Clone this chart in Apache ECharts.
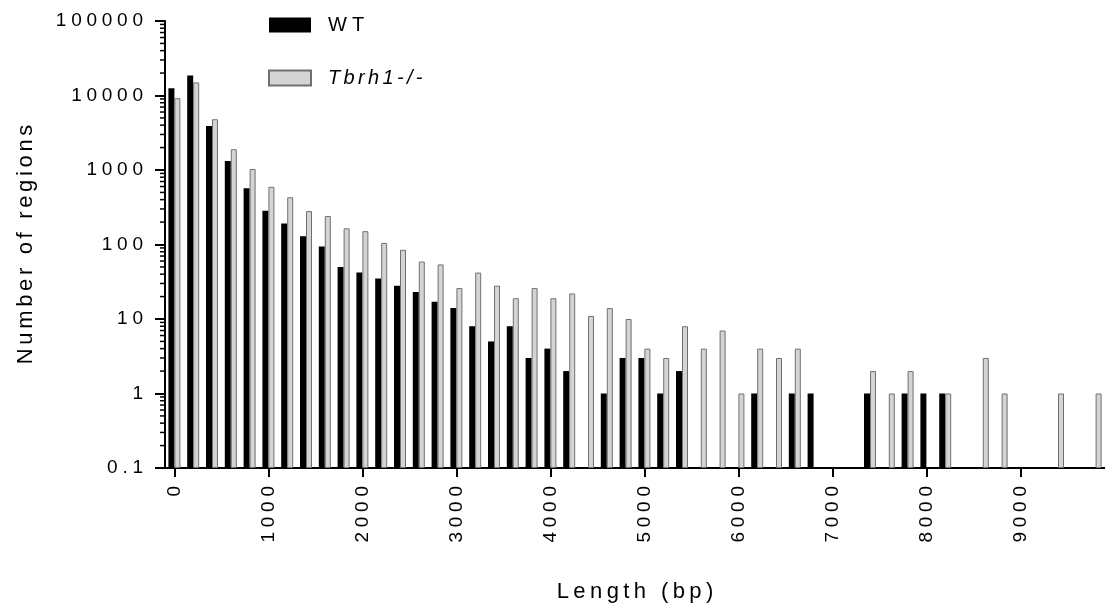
<!DOCTYPE html>
<html>
<head>
<meta charset="utf-8">
<script src="https://cdn.jsdelivr.net/npm/echarts@6/dist/echarts.min.js"></script>
<style>
  html, body { margin: 0; padding: 0; background: #ffffff; }
  #chart { width: 1105px; height: 608px; }
</style>
</head>
<body>
<div id="chart"></div>
<script>
// ---- Data (bin start, bp) ----
const categories = ['0','200','400','600','800','1000','1200','1400','1600','1800',
  '2000','2200','2400','2600','2800','3000','3200','3400','3600','3800',
  '4000','4200','4400','4600','4800','5000','5200','5400','5600','5800',
  '6000','6200','6400','6600','6800','7000','7200','7400','7600','7800',
  '8000','8200','8400','8600','8800','9000','9200','9400','9600','9800'];

const wtValues = [12500, 18500, 3900, 1320, 570, 284, 192, 129, 94, 50,
  42, 35, 28, 23, 17, 14, 8, 5, 8, 3,
  4, 2, null, 1, 3, 3, 1, 2, null, null,
  null, 1, null, 1, 1, null, null, 1, null, 1,
  1, 1, null, null, null, null, null, null, null, null];

const koValues = [9200, 15000, 4800, 1900, 1030, 595, 430, 281, 241, 165,
  151, 105, 85, 59, 54, 26, 42, 28, 19, 26,
  19, 22, 11, 14, 10, 4, 3, 8, 4, 7,
  1, 4, 3, 4, null, null, null, 2, 1, 2,
  null, 1, null, 3, 1, null, null, 1, null, 1];

const xTickLabels = ['0','1000','2000','3000','4000','5000','6000','7000','8000','9000'];
const yTickLabels = ['0.1','1','10','100','1000','10000','100000'];
const seriesNames = ['WT', 'Tbrh1-/-'];
const minorMultipliers = [2, 3, 4, 5, 6, 7, 8, 9];
const decades = [0.1, 1, 10, 100, 1000, 10000];

// ---- helpers ----
const FONT = 'Liberation Sans, Arial, sans-serif';
function spaced(s, gap) { return String(s).split('').join(gap); }
const S3 = '\u2004', S4 = '\u2005', S6 = '\u2006', ST = '\u2009';

const minorTicks = [];
decades.forEach(d => minorMultipliers.forEach(m => minorTicks.push([0, +(d * m).toPrecision(3)])));

const chart = echarts.init(document.getElementById('chart'), null, { renderer: 'canvas' });

const option = {
  backgroundColor: '#ffffff',
  animation: false,
  grid: { left: 165, right: -5, top: 21, bottom: 140, containLabel: false },
  legend: {
    data: seriesNames,
    orient: 'vertical',
    left: 263,
    top: 10,
    icon: 'rect',
    itemWidth: 42,
    itemHeight: 15,
    itemGap: 33,
    selectedMode: false,
    textStyle: {
      fontFamily: FONT, fontSize: 20, color: '#000', lineHeight: 15,
      padding: [0, 0, 0, 12],
      rich: { i: { fontFamily: FONT, fontSize: 20, fontStyle: 'italic', color: '#000', lineHeight: 15 } }
    },
    formatter: function (name) {
      if (name === seriesNames[1]) return '{i|' + spaced(name, S6) + '}';
      return spaced(name, S4);
    }
  },
  xAxis: {
    type: 'category',
    data: categories,
    boundaryGap: true,
    axisLine: { show: true, lineStyle: { color: '#000', width: 2 } },
    axisTick: { show: true, alignWithLabel: true, interval: 4, length: 9, lineStyle: { color: '#000', width: 2 } },
    axisLabel: {
      interval: 4, rotate: 90, margin: 18,
      fontFamily: FONT, fontSize: 19, color: '#000',
      formatter: function (v) { return xTickLabels.indexOf(v) >= 0 ? spaced(v, S4) : ''; }
    },
    splitLine: { show: false },
    name: spaced('Length (bp)', ST),
    nameLocation: 'middle',
    nameGap: 113,
    nameTextStyle: { fontFamily: FONT, fontSize: 22, color: '#000' }
  },
  yAxis: {
    type: 'log',
    logBase: 10,
    min: 0.1,
    max: 100000,
    startValue: 0.1,
    axisLine: { show: true, lineStyle: { color: '#000', width: 2 } },
    axisTick: { show: true, length: 10, lineStyle: { color: '#000', width: 2 } },
    splitLine: { show: false },
    axisLabel: {
      margin: 22, fontFamily: FONT, fontSize: 19, color: '#000',
      formatter: function (v) {
        const idx = Math.round(Math.log10(v)) + 1;
        return spaced(yTickLabels[idx], S4);
      }
    },
    name: spaced('Number of regions', S6),
    nameLocation: 'middle',
    nameGap: 128,
    nameRotate: 90,
    nameTextStyle: { fontFamily: FONT, fontSize: 22, color: '#000' }
  },
  series: [
    {
      name: seriesNames[0],
      type: 'bar',
      data: wtValues,
      barWidth: 6,
      barGap: '0%',
      itemStyle: { color: '#000000' }
    },
    {
      name: seriesNames[1],
      type: 'bar',
      data: koValues,
      barWidth: 6,
      barGap: '0%',
      itemStyle: { color: '#d4d4d4', borderColor: '#707070', borderWidth: 1 }
    },
    {
      name: 'minorTicks',
      type: 'custom',
      data: minorTicks,
      silent: true,
      clip: false,
      z: 10,
      renderItem: function (params, api) {
        const y = api.coord([0, api.value(1)])[1];
        const x = params.coordSys.x;
        return {
          type: 'line',
          shape: { x1: x - 5, y1: y, x2: x, y2: y },
          style: { stroke: '#000', lineWidth: 1.5 }
        };
      }
    }
  ]
};

chart.setOption(option);
</script>
</body>
</html>
